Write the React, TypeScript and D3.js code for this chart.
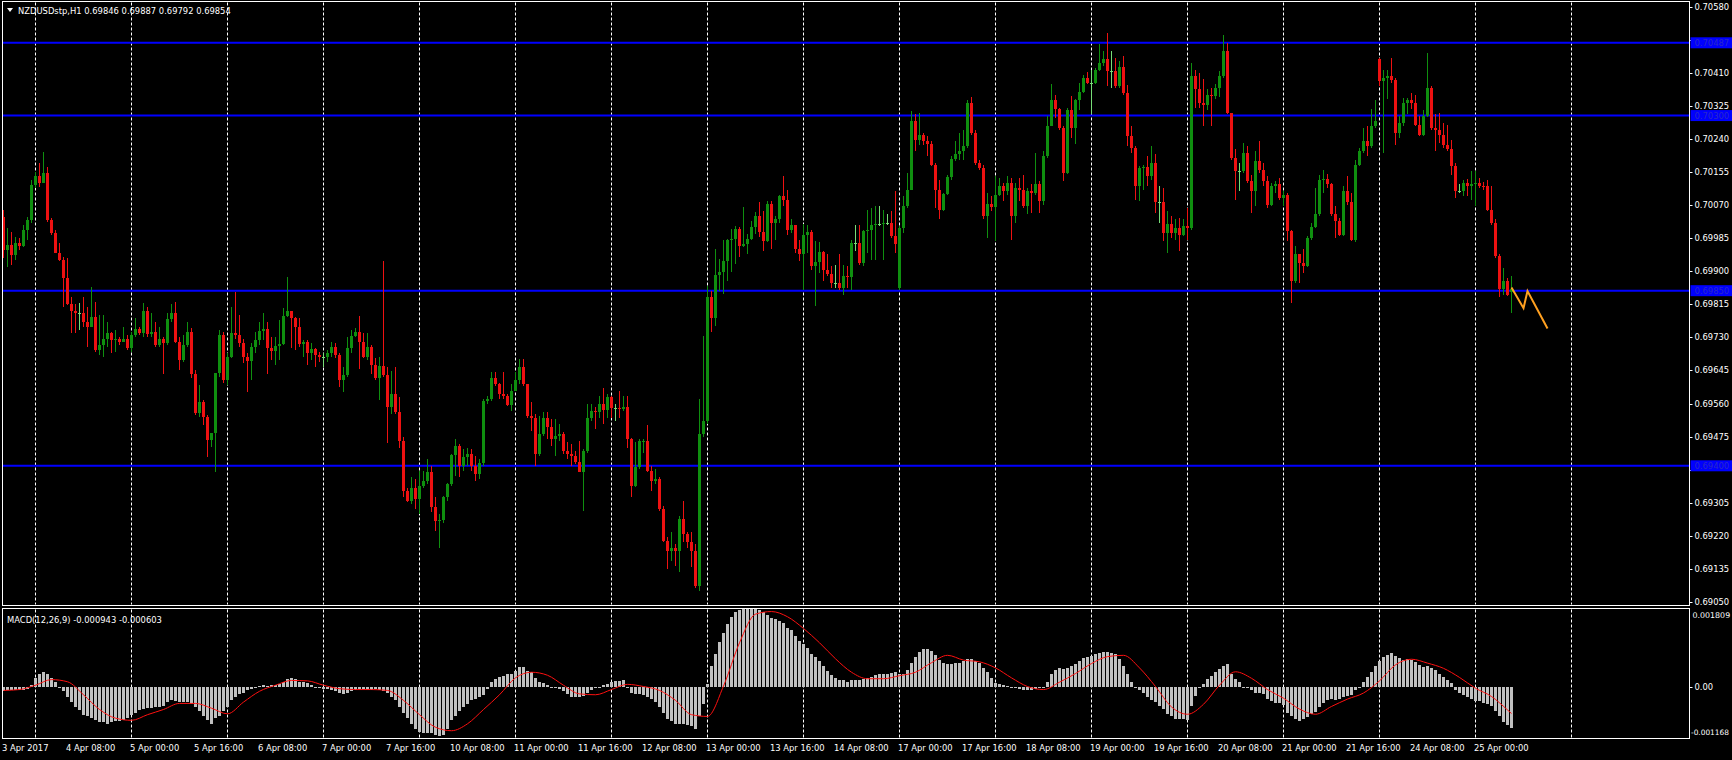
import React, { useEffect } from "react";
import * as d3 from "d3";

// ---------- texts ----------
const SYMBOL_TITLE = "NZDUSDstp,H1  0.69846 0.69887 0.69792 0.69854";
const MACD_TITLE = "MACD(12,26,9) -0.000943 -0.000603";

// ---------- price data (H1 bars, 3 Apr 16:00 .. 25 Apr 09:00) ----------
// values are pips above 0.69000 (price = 0.69 + pips * 0.0001)
const BASE_PRICE = 0.69;
const PIP = 0.0001;

const closePips = [
  95.5, 96.7, 94.2, 97.2, 96.5, 100.6, 103.2, 112.2, 114.5, 112.6,
  115.2, 103.2, 99.7, 94.8, 92.9, 88.2, 81.7, 79.9, 79.2, 79.2,
  77.0, 75.7, 78.3, 69.7, 71.0, 72.7, 74.2, 72.3, 72.5, 71.9,
  72.5, 70.2, 73.6, 75.1, 74.0, 79.7, 73.9, 74.5, 71.0, 72.7,
  71.5, 77.6, 79.3, 71.9, 67.2, 71.0, 74.5, 63.7, 53.5, 56.5,
  52.6, 46.6, 48.3, 63.8, 73.6, 62.0, 68.0, 74.2, 73.6, 71.5,
  68.0, 67.0, 70.6, 72.3, 74.7, 75.1, 70.2, 69.6, 70.8, 71.3,
  78.5, 79.9, 78.1, 75.6, 71.3, 71.9, 68.9, 70.0, 68.5, 67.9,
  67.9, 68.9, 70.4, 68.5, 62.0, 63.3, 70.2, 73.3, 74.5, 71.9,
  68.0, 70.4, 65.9, 62.5, 65.6, 63.3, 55.1, 58.4, 53.7, 46.4,
  33.6, 31.0, 34.4, 31.4, 34.9, 36.2, 38.3, 29.3, 25.7, 26.0,
  31.9, 35.3, 42.8, 45.2, 40.0, 42.2, 43.0, 40.0, 37.9, 40.7,
  56.7, 57.2, 62.6, 61.0, 58.4, 58.0, 55.7, 59.3, 62.0, 65.3,
  61.0, 52.9, 52.4, 43.0, 48.2, 52.4, 49.9, 46.9, 47.7, 48.2,
  43.9, 43.0, 42.6, 40.9, 38.3, 43.9, 52.4, 54.2, 53.7, 55.9,
  54.3, 57.6, 54.8, 54.8, 54.6, 55.2, 46.9, 34.9, 39.6, 46.3,
  46.5, 38.7, 36.2, 36.6, 28.9, 20.7, 18.2, 19.0, 18.2, 26.3,
  22.4, 20.3, 18.2, 9.2, 48.2, 51.6, 83.3, 78.1, 89.1, 89.7,
  92.7, 97.9, 98.3, 100.9, 96.6, 97.0, 98.3, 101.3, 104.3, 100.0,
  97.7, 107.3, 102.4, 103.3, 109.3, 108.4, 100.7, 102.0, 95.6, 94.3,
  99.4, 100.0, 91.3, 92.3, 94.9, 90.4, 89.4, 87.0, 87.0, 85.7,
  88.7, 88.6, 97.3, 97.3, 92.1, 100.3, 100.7, 102.0, 102.2, 102.2,
  102.3, 102.3, 99.0, 97.1, 101.1, 106.7, 111.0, 128.5, 123.8, 124.9,
  123.4, 122.8, 117.4, 111.0, 105.7, 109.9, 114.2, 118.9, 120.1, 120.8,
  122.3, 133.3, 125.5, 117.8, 116.5, 104.1, 107.4, 106.5, 109.7, 111.8,
  110.6, 112.7, 104.1, 111.4, 111.0, 106.7, 110.6, 110.1, 112.5, 108.0,
  119.5, 127.4, 134.1, 131.7, 126.8, 115.3, 131.5, 126.8, 133.9, 136.0,
  139.7, 138.4, 138.4, 141.7, 143.4, 144.6, 141.4, 141.4, 137.5, 142.5,
  135.7, 124.7, 121.7, 111.8, 116.5, 116.8, 114.4, 117.7, 107.7, 107.7,
  99.8, 102.2, 99.8, 101.1, 99.2, 101.7, 101.1, 140.1, 136.7, 133.3,
  132.8, 135.4, 135.0, 137.1, 140.1, 146.5, 130.7, 119.1, 115.7, 115.7,
  120.4, 113.1, 110.5, 118.3, 116.1, 113.1, 107.1, 111.8, 112.3, 108.8,
  109.7, 100.3, 87.4, 94.3, 92.1, 91.3, 98.6, 101.4, 104.6, 113.4,
  113.6, 112.3, 104.6, 102.8, 99.2, 110.5, 107.7, 98.0, 117.4, 120.8,
  123.4, 122.1, 127.3, 128.5, 138.8, 139.7, 140.1, 139.1, 125.5, 128.1,
  133.3, 133.9, 133.3, 127.7, 125.1, 130.0, 137.1, 126.8, 126.4, 125.1,
  122.5, 121.3, 117.0, 110.5, 110.5, 112.7, 111.8, 112.3, 112.7, 112.0,
  111.8, 105.8, 102.4, 93.8, 85.4, 87.4, 84.0, 85.4,
];

const highPips = [
  105.7, 101.0, 100.2, 98.9, 98.5, 101.9, 104.0, 113.4, 115.6, 117.7,
  120.7, 116.9, 103.6, 100.6, 97.2, 93.7, 93.3, 83.5, 81.7, 81.9,
  83.5, 80.9, 86.0, 82.2, 78.7, 78.7, 77.0, 74.5, 74.9, 73.2,
  75.7, 73.6, 74.5, 78.1, 75.7, 81.8, 80.9, 79.2, 77.0, 75.7,
  73.2, 79.2, 81.7, 82.2, 73.2, 73.6, 77.0, 75.3, 64.6, 60.7,
  56.9, 53.0, 48.5, 63.8, 74.9, 74.5, 68.9, 80.9, 84.7, 78.7,
  72.7, 68.9, 71.5, 74.5, 77.0, 79.2, 77.0, 73.2, 73.2, 77.5,
  80.5, 88.6, 79.6, 78.3, 77.9, 72.3, 72.3, 71.5, 70.2, 69.3,
  69.1, 69.7, 71.9, 71.5, 68.9, 65.5, 73.2, 74.9, 75.3, 78.5,
  74.2, 74.2, 71.0, 67.6, 68.0, 92.7, 65.5, 64.4, 65.3, 57.6,
  47.3, 34.4, 37.0, 36.6, 38.7, 38.7, 41.7, 40.0, 31.9, 27.6,
  32.3, 35.7, 43.0, 46.9, 45.6, 44.3, 44.7, 44.3, 42.6, 41.7,
  57.2, 58.0, 64.0, 64.0, 61.4, 64.0, 58.4, 61.0, 64.0, 67.4,
  67.4, 61.0, 56.3, 53.3, 52.9, 53.7, 53.7, 52.0, 52.0, 50.7,
  48.6, 46.0, 45.6, 43.9, 46.4, 44.3, 55.9, 55.9, 55.0, 58.0,
  60.0, 58.4, 58.0, 55.9, 59.1, 58.0, 58.0, 47.1, 46.0, 46.9,
  46.9, 50.6, 40.0, 39.2, 37.0, 29.7, 21.6, 22.9, 19.9, 27.2,
  31.0, 22.9, 22.9, 19.9, 57.2, 73.4, 86.3, 85.0, 95.7, 93.1,
  97.9, 98.3, 100.9, 101.7, 101.3, 106.4, 99.6, 103.0, 105.1, 107.7,
  105.6, 108.1, 108.0, 104.1, 109.7, 114.4, 111.0, 103.3, 102.0, 98.1,
  102.2, 102.0, 100.7, 97.7, 97.5, 95.1, 94.3, 91.3, 91.5, 94.3,
  91.7, 91.3, 98.1, 102.0, 102.0, 100.7, 105.8, 106.3, 106.7, 106.7,
  105.8, 104.6, 105.4, 110.5, 101.5, 109.3, 115.3, 131.1, 130.3, 130.7,
  125.5, 124.7, 123.4, 117.8, 113.5, 110.1, 114.8, 119.5, 123.4, 125.5,
  126.4, 134.1, 134.8, 126.4, 118.7, 117.4, 110.1, 109.3, 114.4, 114.0,
  112.7, 114.4, 114.0, 112.7, 114.0, 114.8, 111.4, 112.5, 120.4, 113.1,
  120.8, 129.8, 138.0, 135.2, 132.0, 127.3, 131.9, 135.0, 134.3, 138.4,
  140.5, 141.1, 141.8, 142.3, 148.3, 146.5, 151.3, 146.5, 144.8, 144.0,
  145.3, 137.9, 127.3, 122.3, 117.0, 117.4, 119.5, 122.1, 120.0, 111.8,
  111.4, 105.4, 104.1, 103.3, 103.7, 103.3, 106.3, 143.5, 141.8, 141.0,
  139.3, 136.7, 137.1, 138.0, 141.4, 150.6, 148.7, 130.7, 121.3, 117.8,
  123.0, 122.1, 114.8, 120.8, 123.4, 117.8, 114.4, 112.7, 113.1, 114.0,
  110.5, 110.1, 100.7, 96.6, 94.3, 95.6, 99.0, 102.4, 111.4, 114.8,
  116.1, 115.1, 112.7, 106.7, 103.7, 111.8, 114.4, 110.1, 118.7, 121.7,
  126.8, 127.3, 131.7, 134.1, 144.8, 141.8, 141.8, 144.8, 139.7, 129.8,
  134.6, 134.6, 135.7, 135.4, 129.8, 131.4, 146.1, 137.5, 130.3, 130.7,
  128.1, 127.7, 123.8, 117.8, 112.3, 113.4, 113.8, 115.7, 115.7, 113.9,
  112.8, 113.5, 112.0, 103.3, 94.3, 90.8, 88.3, 88.7,
];

const lowPips = [
  93.3, 91.2, 91.6, 92.9, 95.5, 96.3, 98.0, 102.3, 111.3, 111.7,
  112.6, 102.7, 99.3, 94.6, 92.5, 80.9, 81.3, 74.2, 74.2, 74.9,
  75.7, 70.6, 75.7, 69.3, 68.5, 68.0, 70.6, 68.9, 69.3, 71.0,
  71.9, 69.7, 69.3, 73.2, 73.6, 73.2, 73.2, 73.2, 70.6, 70.6,
  63.7, 71.0, 77.0, 71.5, 64.6, 66.7, 70.6, 62.5, 53.0, 52.6,
  50.5, 42.3, 44.9, 38.5, 62.9, 61.2, 60.7, 67.6, 72.7, 70.6,
  66.3, 59.0, 62.0, 68.9, 71.0, 72.3, 63.7, 67.2, 65.9, 67.2,
  71.0, 78.3, 70.2, 69.7, 70.6, 68.0, 65.9, 67.2, 65.5, 66.7,
  65.5, 66.7, 68.0, 67.6, 60.3, 59.0, 62.9, 68.9, 73.2, 65.0,
  67.6, 67.2, 63.7, 62.0, 56.9, 62.9, 45.8, 53.3, 53.3, 44.7,
  31.9, 30.6, 30.2, 28.9, 27.6, 34.4, 35.3, 28.0, 23.3, 19.0,
  25.4, 31.0, 34.9, 37.4, 37.0, 38.7, 40.0, 38.7, 36.2, 36.6,
  40.0, 55.9, 56.7, 60.6, 57.2, 57.2, 55.4, 54.2, 59.1, 61.0,
  60.6, 52.4, 49.0, 40.0, 42.6, 47.7, 46.9, 45.2, 42.6, 46.4,
  43.0, 41.7, 40.0, 40.4, 38.3, 28.4, 43.4, 51.6, 49.4, 52.4,
  50.7, 52.4, 52.4, 51.6, 52.4, 54.2, 44.7, 31.9, 34.6, 39.2,
  43.4, 38.3, 33.6, 35.3, 28.4, 20.3, 13.4, 15.6, 14.3, 12.6,
  20.3, 19.0, 13.9, 8.7, 7.9, 47.3, 50.7, 74.3, 76.0, 85.0,
  84.1, 87.6, 89.7, 91.9, 93.6, 96.1, 94.4, 97.9, 99.6, 98.7,
  95.3, 97.4, 95.6, 98.1, 102.4, 106.7, 99.4, 99.8, 94.7, 92.6,
  85.3, 94.7, 90.4, 81.0, 89.6, 87.4, 88.7, 85.7, 85.7, 85.3,
  84.0, 85.7, 85.3, 95.1, 91.7, 91.3, 94.7, 93.0, 93.0, 101.6,
  93.0, 102.0, 98.6, 94.7, 85.3, 99.8, 106.3, 111.0, 120.8, 122.5,
  122.5, 119.5, 117.0, 106.3, 103.3, 105.4, 109.7, 113.5, 118.3, 118.7,
  118.7, 121.7, 125.1, 117.4, 116.1, 103.3, 98.6, 105.4, 97.7, 109.3,
  108.0, 109.7, 98.1, 102.4, 108.0, 106.3, 104.6, 105.0, 109.7, 105.0,
  107.0, 119.2, 127.3, 129.4, 126.4, 113.1, 115.1, 124.3, 122.8, 131.5,
  135.7, 138.0, 130.3, 138.0, 141.4, 142.8, 137.5, 137.1, 137.1, 137.1,
  135.4, 122.1, 120.4, 108.4, 108.0, 111.0, 111.8, 113.5, 105.0, 102.4,
  97.7, 94.7, 98.6, 98.1, 95.1, 99.0, 98.1, 100.7, 132.0, 131.9,
  127.3, 131.5, 127.3, 134.3, 134.8, 139.7, 130.3, 118.7, 108.4, 110.5,
  115.3, 112.7, 105.0, 106.7, 115.3, 111.8, 106.3, 106.7, 110.1, 108.4,
  106.7, 97.7, 81.8, 87.0, 87.0, 89.6, 91.0, 98.1, 101.1, 104.1,
  110.1, 111.4, 104.1, 98.6, 99.0, 99.0, 107.1, 97.7, 97.5, 117.0,
  120.4, 119.5, 121.7, 126.8, 137.5, 120.4, 134.3, 138.4, 122.5, 124.3,
  127.3, 130.3, 131.7, 127.3, 124.7, 124.7, 129.6, 126.4, 120.8, 123.0,
  121.7, 120.8, 114.8, 108.8, 110.1, 109.3, 109.3, 108.4, 106.7, 111.4,
  110.9, 105.4, 102.0, 93.4, 83.4, 84.0, 83.6, 79.2,
];

// opens equal the previous close except at these bars (first bar, weekly gaps, current bar)
const openOverrides: Record<number, number> = { 0: 104.0, 224: 85.7, 344: 144.6, 377: 84.6 };

// MACD main (histogram) per bar, units of 0.0001
const macdMain = [
  -0.8, -0.7, -0.7, -0.6, -0.6, -0.5, -0.3, 0.5, 2.2, 3.0,
  3.6, 3.2, 2.2, 1.2, 0.2, -0.9, -2.3, -3.4, -4.5, -5.3,
  -6.3, -6.7, -7.1, -7.5, -8.0, -8.1, -8.4, -8.1, -7.8, -7.8,
  -7.5, -7.1, -6.3, -5.9, -5.3, -5.1, -4.8, -4.8, -4.6, -4.5,
  -4.2, -3.4, -3.0, -3.2, -3.4, -3.4, -3.4, -3.8, -4.5, -5.5,
  -6.7, -7.5, -8.4, -7.1, -6.7, -5.5, -4.6, -3.0, -2.2, -1.5,
  -1.2, -0.7, -0.3, -0.2, 0.3, 0.5, 0.3, 0.5, 0.5, 0.7,
  1.3, 2.0, 2.2, 2.0, 1.3, 1.2, 1.0, 0.5, 0.2, -0.1,
  -0.3, -0.3, -0.7, -0.9, -1.3, -1.6, -1.2, -0.8, -0.5, -0.3,
  -0.3, -0.5, -0.5, -0.3, -0.5, -0.9, -1.3, -2.2, -3.0, -4.5,
  -5.9, -7.0, -8.4, -9.6, -10.3, -10.5, -10.5, -10.6, -10.9, -11.3,
  -10.9, -9.6, -7.5, -6.7, -5.5, -4.6, -3.8, -3.0, -2.6, -2.2,
  -1.7, -0.3, 1.2, 2.0, 2.3, 2.7, 3.0, 3.2, 3.7, 4.6,
  4.6, 3.8, 3.5, 2.2, 1.3, 1.0, 0.5, 0.2, -0.1, -0.3,
  -0.9, -1.5, -2.2, -2.3, -2.2, -2.0, -1.2, -0.7, -0.2, 0.2,
  0.5, 0.7, 1.2, 1.5, 1.5, 1.7, 0.2, -1.2, -1.5, -1.5,
  -1.7, -2.3, -2.6, -3.4, -4.5, -5.9, -7.3, -7.8, -8.4, -8.4,
  -8.4, -8.6, -9.0, -9.5, -6.7, -3.8, 0.7, 4.9, 7.8, 10.5,
  12.6, 14.6, 16.3, 17.3, 17.9, 18.1, 18.1, 18.1, 18.09, 17.8,
  17.3, 16.8, 15.9, 15.7, 15.4, 14.9, 13.8, 13.2, 11.8, 10.7,
  9.9, 9.0, 7.8, 7.0, 6.1, 4.9, 3.7, 2.8, 2.2, 1.8,
  1.6, 1.3, 1.6, 1.7, 1.8, 2.0, 2.2, 2.4, 2.8, 3.0,
  3.2, 3.2, 3.3, 3.5, 3.0, 3.2, 4.1, 5.7, 7.0, 8.2,
  8.8, 8.8, 8.5, 7.4, 6.3, 5.7, 5.3, 5.3, 5.7, 5.7,
  6.0, 6.6, 6.6, 6.1, 5.7, 4.5, 3.5, 2.2, 1.0, 0.7,
  0.5, 0.3, -0.1, -0.2, -0.3, -0.7, -0.7, -0.5, -0.3, -0.2,
  0.2, 1.3, 3.2, 4.1, 4.5, 4.3, 4.5, 4.9, 5.3, 6.1,
  6.8, 7.1, 7.3, 7.6, 8.0, 8.2, 8.1, 8.0, 7.6, 6.6,
  4.9, 3.2, 1.2, -0.1, -0.7, -1.3, -2.2, -2.8, -3.4, -4.2,
  -5.1, -6.1, -6.7, -7.3, -7.2, -7.3, -7.5, -4.2, -1.9, 0.0,
  0.8, 1.9, 2.7, 3.6, 4.2, 5.0, 5.5, 3.1, 1.9, 1.2,
  0.2, -0.2, -0.6, -1.2, -1.3, -1.5, -2.7, -3.1, -3.5, -3.7,
  -4.1, -5.8, -6.7, -7.3, -7.7, -7.3, -6.9, -6.2, -5.6, -4.6,
  -3.6, -2.8, -2.7, -2.8, -2.7, -2.3, -2.1, -1.8, -0.5, 0.2,
  1.3, 2.5, 3.5, 5.0, 6.2, 6.9, 7.5, 7.9, 7.3, 6.7,
  6.4, 6.5, 6.3, 5.8, 5.2, 4.8, 5.0, 4.5, 3.9, 3.1,
  2.5, 1.8, 1.0, -0.5, -1.2, -1.8, -2.3, -2.7, -3.1, -3.2,
  -3.5, -3.9, -4.4, -5.4, -6.7, -7.9, -8.7, -9.43,
];

// MACD signal line read every 4 bars (and the last bar), units of 0.0001
const signalBars = [
  0, 4, 8, 12, 16, 20, 24, 28, 32, 36, 40, 44, 48, 52, 56, 60, 64, 68, 72, 76,
  80, 84, 88, 92, 96, 100, 104, 108, 112, 116, 120, 124, 128, 132, 136, 140, 144, 148, 152, 156,
  160, 164, 168, 172, 176, 180, 184, 188, 192, 196, 200, 204, 208, 212, 216, 220, 224, 228, 232, 236,
  240, 244, 248, 252, 256, 260, 264, 268, 272, 276, 280, 284, 288, 292, 296, 300, 304, 308, 312, 316,
  320, 324, 328, 332, 336, 340, 344, 348, 352, 356, 360, 364, 368, 372, 376, 377,
];
const signalValues = [
  -0.7, -0.5, 0.5, 1.8, 1.3, -1.7, -5.1, -7.1, -7.6, -6.3, -5.1, -3.7, -3.7, -4.8, -6.1, -3.4, -0.9, 0.5, 1.6, 1.5,
  0.5, -0.3, -0.5, -0.5, -0.7, -3.0, -6.3, -9.2, -10.0, -8.4, -5.1, -1.7, 2.2, 3.5, 2.8, 0.5, -1.5, -1.7, -0.5, 0.7,
  0.2, -0.7, -3.0, -6.3, -6.7, 0.3, 10.3, 16.9, 17.5, 16.3, 13.6, 10.3, 6.6, 3.5, 2.0, 2.0, 2.7, 3.5, 5.7, 7.4,
  6.3, 5.9, 4.5, 2.2, 0.2, -0.5, 1.2, 3.2, 5.5, 7.1, 7.4, 4.5, 0.2, -4.5, -6.2, -3.9, 0.5, 3.6, 2.1, -0.5,
  -2.5, -5.0, -6.2, -4.4, -2.7, -1.3, 1.5, 5.2, 6.5, 5.6, 4.4, 2.3, -0.2, -2.1, -5.2, -6.03,
];

// projection drawn after the last bar: [bar, pips]
const projectionBars = [377, 380, 381, 386];
const projectionPips = [85.8, 80.5, 84.9, 75.3];

// ---------- axes ----------
const priceTicks = [
  "0.70580", "0.70495", "0.70410", "0.70325", "0.70240", "0.70155", "0.70070", "0.69985",
  "0.69900", "0.69815", "0.69730", "0.69645", "0.69560", "0.69475", "0.69390", "0.69305",
  "0.69220", "0.69135", "0.69050",
];
const levelLines = ["0.70487", "0.70300", "0.69850", "0.69400"];
const dayStartBars = [8, 32, 56, 80, 104, 128, 152, 176, 200, 224, 248, 272, 296, 320, 344, 368, 392];
const timeLabelBars = [0, 16, 32, 48, 64, 80, 96, 112, 128, 144, 160, 176, 192, 208, 224, 240, 256, 272, 288, 304, 320, 336, 352, 368];
const timeLabelTexts = [
  "3 Apr 2017", "4 Apr 08:00", "5 Apr 00:00", "5 Apr 16:00", "6 Apr 08:00", "7 Apr 00:00",
  "7 Apr 16:00", "10 Apr 08:00", "11 Apr 00:00", "11 Apr 16:00", "12 Apr 08:00", "13 Apr 00:00",
  "13 Apr 16:00", "14 Apr 08:00", "17 Apr 00:00", "17 Apr 16:00", "18 Apr 08:00", "19 Apr 00:00",
  "19 Apr 16:00", "20 Apr 08:00", "21 Apr 00:00", "21 Apr 16:00", "24 Apr 08:00", "25 Apr 00:00",
];
const macdMax = 0.001809;
const macdMin = -0.001168;
const macdAxisLabels = ["0.001809", "0.00", "-0.001168"];

// ---------- layout ----------
const W = 1732;
const H = 760;
const LEFT = 2.5;
const RIGHT = 1689.5;
const MAIN_TOP = 1.5;
const MAIN_BOTTOM = 605.5;
const SUB_TOP = 608.5;
const SUB_BOTTOM = 738.5;
const FONT = "'DejaVu Sans', Verdana, sans-serif";
const FS = 8.4;

const BULL = "#0f8f0f";
const BEAR = "#ee1111";
const DOJI = "#77dd77";
const LEVEL = "#0000ff";
const MACD_UNIT = 1e-4;

export default function App() {
  useEffect(() => {
    document.body.style.margin = "0";
    document.body.style.background = "#000";
  }, []);

  const n = Math.min(closePips.length, highPips.length, lowPips.length);
  const x = d3.scaleLinear().domain([0, 1]).range([3, 7]); // bar spacing 4px
  const toPrice = (p: number) => BASE_PRICE + p * PIP;
  const y = d3.scaleLinear().domain([0.6905, 0.7058]).range([602.0, 6.6]);
  const ym = d3.scaleLinear().domain([macdMin, macdMax]).range([SUB_BOTTOM - 0.5, SUB_TOP + 0.5]);

  const candles = d3.range(n).map((i) => {
    const o = openOverrides[i] !== undefined ? openOverrides[i] : closePips[i - 1];
    const c = closePips[i];
    const h = Math.max(highPips[i], o, c);
    const l = Math.min(lowPips[i], o, c);
    return { i, o: toPrice(o), c: toPrice(c), h: toPrice(h), l: toPrice(l) };
  });

  const signalLine = d3
    .line<number>()
    .x((_, k) => x(signalBars[k]) + 0.5)
    .y((v) => ym(v * MACD_UNIT))
    .curve(d3.curveMonotoneX)(signalValues);

  const projLine = d3
    .line<number>()
    .x((b) => x(b) + 0.5)
    .y((_, k) => y(toPrice(projectionPips[k])))(projectionBars);

  const zeroY = ym(0);
  // tick labels that sit under a level-line price box are hidden, as on the terminal
  const visibleTicks = priceTicks.filter((t) => levelLines.every((v) => Math.abs(y(+t) - y(+v)) > 7));

  return (
    <svg width={W} height={H} style={{ display: "block", background: "#000" }} fontFamily={FONT}>
      <rect x={0} y={0} width={W} height={H} fill="#000" />

      {/* vertical dashed day grid */}
      {dayStartBars.map((b) => (
        <g key={"g" + b}>
          <line x1={x(b) + 0.5} x2={x(b) + 0.5} y1={MAIN_TOP + 1} y2={MAIN_BOTTOM - 1} stroke="#fff" strokeDasharray="3,2" />
          <line x1={x(b) + 0.5} x2={x(b) + 0.5} y1={SUB_TOP + 1} y2={SUB_BOTTOM - 1} stroke="#fff" strokeDasharray="3,2" />
        </g>
      ))}

      {/* horizontal levels */}
      {levelLines.map((v) => (
        <line key={"lv" + v} x1={LEFT} x2={RIGHT} y1={y(+v)} y2={y(+v)} stroke={LEVEL} strokeWidth={2} />
      ))}

      {/* candles */}
      <g shapeRendering="crispEdges">
        {candles.map((d) => {
          const col = d.c > d.o ? BULL : d.c < d.o ? BEAR : DOJI;
          const cx = x(d.i);
          const top = y(Math.max(d.o, d.c));
          const bot = y(Math.min(d.o, d.c));
          return (
            <g key={"c" + d.i}>
              <rect x={cx} y={y(d.h)} width={1} height={Math.max(1, y(d.l) - y(d.h))} fill={col} />
              <rect x={cx - 1} y={top} width={3} height={Math.max(1, bot - top)} fill={col} />
            </g>
          );
        })}
      </g>

      {/* projection */}
      <path d={projLine || ""} fill="none" stroke="#ffa020" strokeWidth={2} />

      {/* MACD histogram */}
      <g shapeRendering="crispEdges">
        {macdMain.map((v, i) => {
          const yy = ym(v * MACD_UNIT);
          return (
            <rect key={"m" + i} x={x(i) - 1} y={Math.min(yy, zeroY)} width={3} height={Math.max(1, Math.abs(yy - zeroY))} fill="#c0c0c0" />
          );
        })}
      </g>
      <path d={signalLine || ""} fill="none" stroke="#ff1010" strokeWidth={1} />

      {/* panel frames */}
      <g stroke="#fff" strokeWidth={1} fill="none" shapeRendering="crispEdges">
        <rect x={LEFT} y={MAIN_TOP} width={RIGHT - LEFT} height={MAIN_BOTTOM - MAIN_TOP} />
        <rect x={LEFT} y={SUB_TOP} width={RIGHT - LEFT} height={SUB_BOTTOM - SUB_TOP} />
      </g>

      {/* price axis */}
      <g fontSize={FS} fill="#fff">
        {priceTicks.map((t) => (
          <line key={"tk" + t} x1={RIGHT} x2={RIGHT + 3} y1={Math.round(y(+t)) + 0.5} y2={Math.round(y(+t)) + 0.5} stroke="#fff" />
        ))}
        {visibleTicks.map((t) => (
          <text key={"pt" + t} x={RIGHT + 5} y={y(+t)} dy="0.36em">{t}</text>
        ))}
      </g>
      {levelLines.map((v) => (
        <g key={"lb" + v}>
          <rect x={RIGHT + 1} y={y(+v) - 5.5} width={W - RIGHT} height={11} fill={LEVEL} />
          <text x={RIGHT + 5} y={y(+v)} dy="0.36em" fontSize={FS} fill="#2a2ac8">{v}</text>
        </g>
      ))}

      {/* MACD axis */}
      <g fill="#fff">
        <text x={RIGHT + 3} y={SUB_TOP + 7} dy="0.36em" fontSize={7.9}>{macdAxisLabels[0]}</text>
        <line x1={RIGHT} x2={RIGHT + 3} y1={Math.round(zeroY) + 0.5} y2={Math.round(zeroY) + 0.5} stroke="#fff" />
        <text x={RIGHT + 5} y={zeroY} dy="0.36em" fontSize={FS}>{macdAxisLabels[1]}</text>
        <text x={RIGHT + 1.5} y={SUB_BOTTOM - 6} dy="0.36em" fontSize={7.4}>{macdAxisLabels[2]}</text>
      </g>

      {/* time axis */}
      <g fontSize={FS} fill="#fff">
        {timeLabelBars.map((b, k) => (
          <text key={"tl" + b} x={x(b) - 1} y={748} dy="0.36em">{timeLabelTexts[k]}</text>
        ))}
      </g>

      {/* titles */}
      <polygon points="7,8 13,8 10,12" fill="#fff" />
      <text x={18} y={11} dy="0.36em" fontSize={FS} fill="#fff">{SYMBOL_TITLE}</text>
      <text x={7} y={620} dy="0.36em" fontSize={FS} fill="#fff">{MACD_TITLE}</text>
    </svg>
  );
}
